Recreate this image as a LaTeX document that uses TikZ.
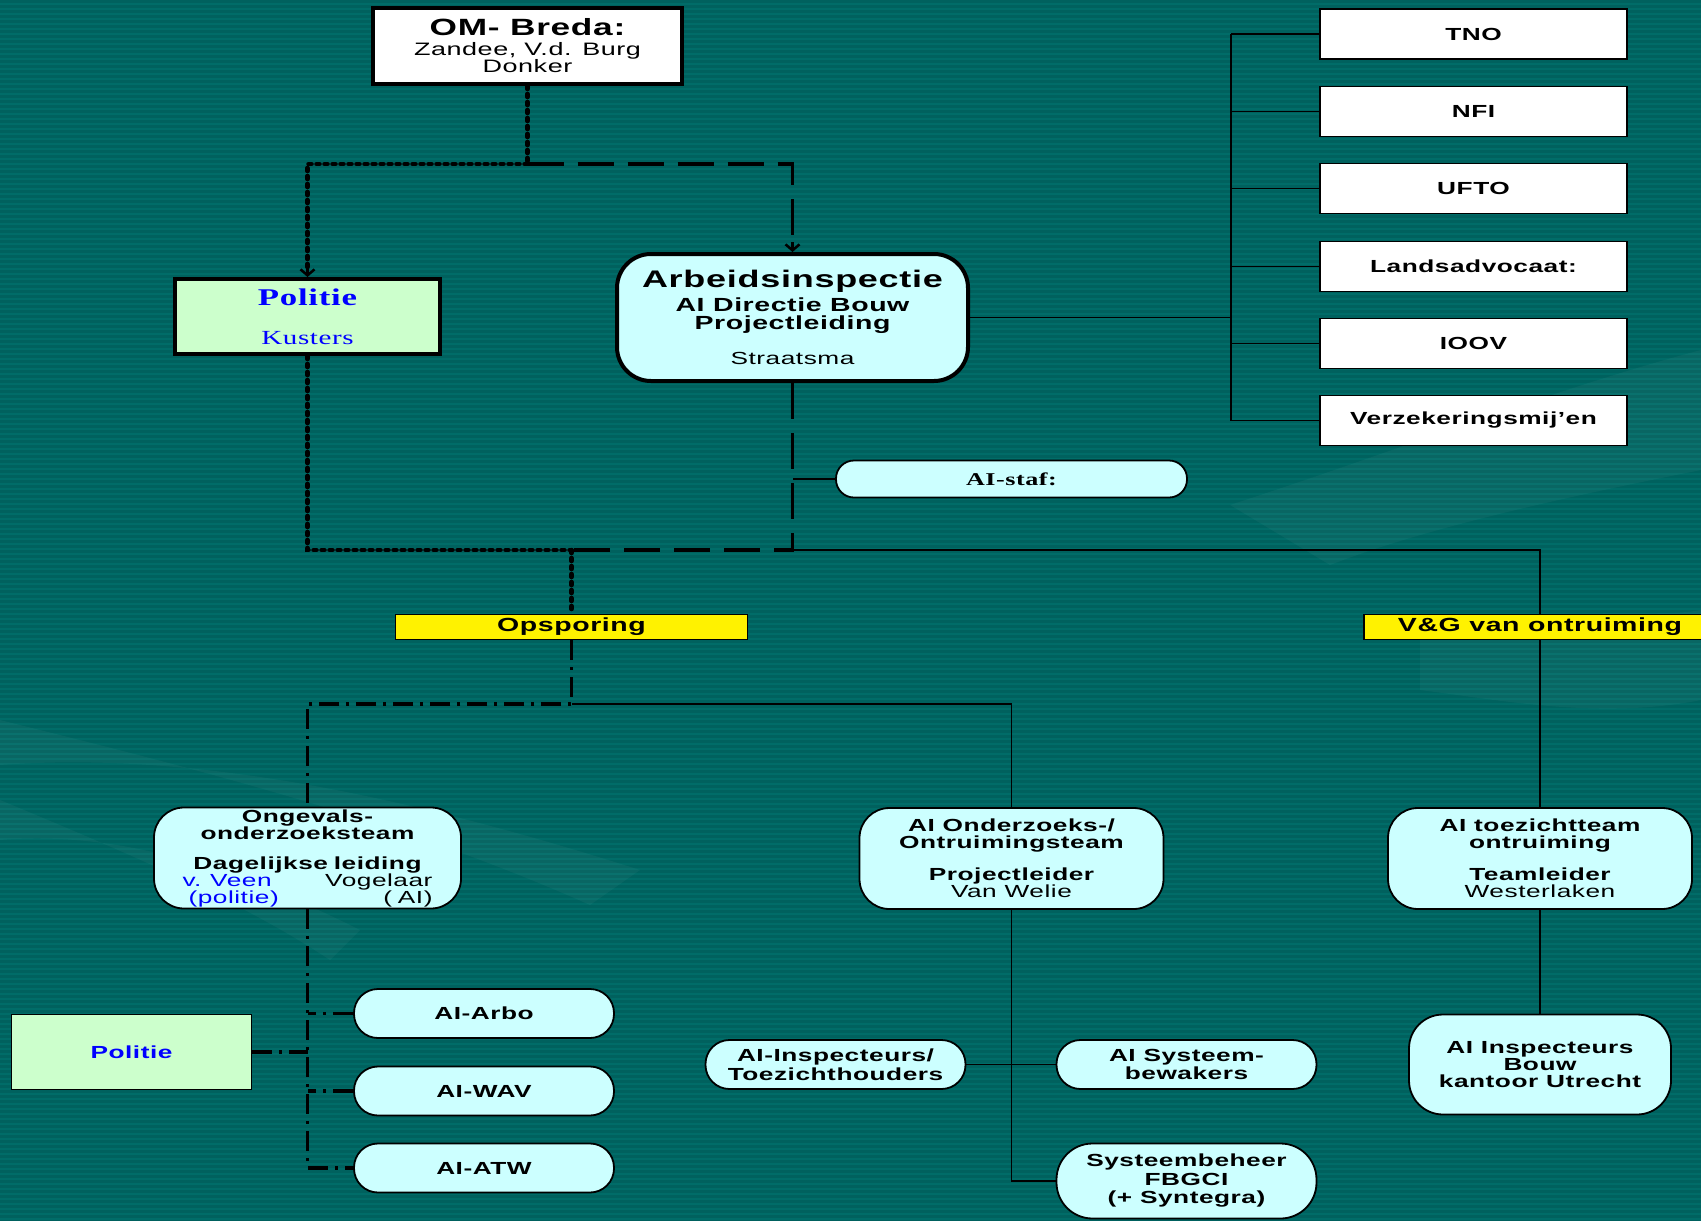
\documentclass[tikz,border=0pt]{standalone}
\usepackage{fontspec}
\newfontfamily\ar{Liberation Sans}[FakeStretch=1.5,LetterSpace=3]
\newfontfamily\tm{Liberation Serif}[FakeStretch=1.45,LetterSpace=3]
\usetikzlibrary{arrows.meta,calc}
\pgfdeclarelayer{bg}
\pgfdeclarelayer{conn}
\pgfsetlayers{bg,conn,main}
\definecolor{tealA}{RGB}{0,108,104}
\definecolor{tealB}{RGB}{0,97,94}
\definecolor{lcyan}{RGB}{204,255,255}
\definecolor{lgreen}{RGB}{204,255,204}
\definecolor{pblue}{RGB}{0,0,255}
\newcommand{\fsz}[2]{\fontsize{#1}{#2}\selectfont}
\newcommand{\tightls}{\lineskiplimit-50pt\lineskip0pt\relax}
\begin{document}
\begin{tikzpicture}[x=1pt,y=-1pt,
  box/.style={draw=black,line width=1.8pt,inner sep=0pt,align=center,
    font=\ar\bfseries\fsz{17.5}{17}\tightls},
  thickbox/.style={box,line width=4pt},
  extbox/.style={box,fill=white,minimum width=307,minimum height=50},
  pill/.style={box,fill=lcyan,rounded corners=24,minimum width=260,minimum height=49},
  rbox/.style={box,fill=lcyan,rounded corners=30},
  band/.style={box,fill=yellow,line width=1.5pt,minimum width=352,minimum height=25,
    font=\ar\bfseries\fsz{19}{19}},
  thinl/.style={draw=black,line width=1.8pt},
  dotl/.style={draw=black,line width=4.5pt,dash pattern=on 3pt off 5pt,line cap=round},
  dashl/.style={draw=black,line width=3.5pt,dash pattern=on 36pt off 14pt},
  ddl/.style={draw=black,line width=3.5pt,dash pattern=on 20pt off 7pt on 3pt off 7pt},
  barb/.style={draw=black,line width=2.5pt,-{Straight Barb[length=6pt,width=14pt]}},
  ghost/.style={fill=white,opacity=0.035},
]
\useasboundingbox (0,0) rectangle (1701,1221);
\begin{pgfonlayer}{bg}
  \fill[tealA] (0,0) rectangle (1701,1221);
  \foreach \y in {0,5,...,1220} \fill[tealB] (0,\y) rectangle (1701,\y+2.5);
  % faint background imagery
  \fill[ghost] (0,720) .. controls (200,770) and (400,820) .. (590,905) -- (640,870) .. controls (420,800) and (200,750) .. (0,765) -- cycle;
  \fill[ghost] (0,800) .. controls (120,850) and (240,900) .. (330,960) -- (360,930) .. controls (240,870) and (120,830) .. (0,840) -- cycle;
  \fill[ghost] (1230,505) .. controls (1400,450) and (1550,390) .. (1701,350) -- (1701,470) .. controls (1550,500) and (1420,530) .. (1330,565) -- cycle;
  \fill[ghost] (1420,640) .. controls (1550,600) and (1650,620) .. (1701,610) -- (1701,700) .. controls (1600,720) and (1500,700) .. (1420,690) -- cycle;
\end{pgfonlayer}

% ---------- nodes ----------
\node[thickbox,fill=white,minimum width=309,minimum height=76] (om) at (527.5,46)
  {{\fsz{23.5}{20}OM- Breda:}\\[3pt]{\mdseries\fsz{18}{16}Zandee, V.d. Burg}\\{\mdseries\fsz{18}{16}Donker}};

\node[thickbox,fill=lgreen,minimum width=265,minimum height=75,font=\tm\fsz{20}{20}\tightls] (pol) at (307.5,316.5)
  {\textcolor{pblue}{\bfseries\fsz{24}{20}Politie}\\[19pt]\textcolor{pblue}{Kusters}};

\node[thickbox,fill=lcyan,rounded corners=34,minimum width=351,minimum height=127] (ai) at (792.5,317.5)
  {{\fsz{24}{20}Arbeidsinspectie}\\[7pt]{\fsz{19}{18}AI Directie Bouw}\\[1pt]{\fsz{19}{18}Projectleiding}\\[18pt]{\mdseries\fsz{17.5}{17}Straatsma}};

\node[extbox] (tno)   at (1473.5,34)    {TNO};
\node[extbox] (nfi)   at (1473.5,111.5) {NFI};
\node[extbox] (ufto)  at (1473.5,188.5) {UFTO};
\node[extbox] (lands) at (1473.5,266.5) {Landsadvocaat:};
\node[extbox] (ioov)  at (1473.5,343.5) {IOOV};
\node[extbox] (verz)  at (1473.5,420.5) {Verzekeringsmij’en};

\node[pill,minimum width=351,minimum height=37,rounded corners=18,font=\tm\bfseries\fsz{18}{18}] (staf) at (1011.5,479) {AI-staf:};

\node[band] (ops) at (571.5,627) {Opsporing};
\node[band] (vg)  at (1540,627) {V\&G van ontruiming};

\node[rbox,minimum width=307,minimum height=101,text width=250] (ong) at (307.5,858)
  {Ongevals-\\onderzoeksteam\\[13pt]Dagelijkse leiding\\
   {\mdseries\textcolor{pblue}{v. Veen}\hfill Vogelaar}\\
   {\mdseries\hspace*{6pt}\textcolor{pblue}{(politie)}\hfill ( AI)\hspace*{5pt}}};

\node[rbox,minimum width=304,minimum height=101] (ond) at (1011.5,858.5)
  {AI Onderzoeks-/\\Ontruimingsteam\\[15pt]Projectleider\\{\mdseries Van Welie}};

\node[rbox,minimum width=304,minimum height=101] (toez) at (1540,858.5)
  {AI toezichtteam\\ontruiming\\[15pt]Teamleider\\{\mdseries Westerlaken}};

\node[box,fill=lgreen,minimum width=240,minimum height=75,text=pblue] (pol2) at (131.5,1052) {Politie};

\node[pill] (arbo) at (484,1013.5) {AI-Arbo};
\node[pill] (wav)  at (484,1091)   {AI-WAV};
\node[pill] (atw)  at (484,1168)   {AI-ATW};

\node[pill,font=\ar\bfseries\fsz{17.5}{18.5}\tightls] (insp) at (835.5,1064.5) {AI-Inspecteurs/\\Toezichthouders};
\node[pill,font=\ar\bfseries\fsz{17.5}{18.5}\tightls] (sysb) at (1186.5,1064.5) {AI Systeem-\\bewakers};
\node[pill,minimum height=75,rounded corners=36,font=\ar\bfseries\fsz{17.5}{18.5}\tightls] (sbeh) at (1186.5,1181)
  {Systeembeheer\\FBGCI\\(+ Syntegra)};

\node[rbox,minimum width=262,minimum height=100,rounded corners=34] (ib) at (1540,1064.5)
  {AI Inspecteurs\\Bouw\\kantoor Utrecht};

% ---------- connectors ----------
\begin{pgfonlayer}{conn}
  \coordinate (j1)  at (527.5,164);
  \coordinate (jpt) at (307.5,164);
  \coordinate (jat) at (792.5,164);
  \coordinate (j2)  at (307.5,550);
  \coordinate (j3)  at (571.5,550);
  \coordinate (j4)  at (792.5,550);
  \coordinate (j5)  at (571.5,704);
  \coordinate (bus) at (1231,317.5);

  \draw[dotl] (om.south) -- (j1);
  \draw[dotl] (j1) -- (jpt) -- ([yshift=6pt]pol.north);
  \draw[barb] ([yshift=10pt]pol.north) -- (pol.north);
  \draw[dashl] (j1) -- (jat) -- ([yshift=6pt]ai.north);
  \draw[barb] ([yshift=10pt]ai.north) -- (ai.north);

  \draw[dotl] (pol.south) -- (j2) -- (j3);
  \draw[dashl] (ai.south) -- (j4) -- (j3);
  \draw[thinl] (staf.west) -- (staf.west -| j4);
  \draw[thinl] (j4) -| (toez.north);
  \draw[thinl] (toez.south) -- (ib.north);

  \draw[dotl] (j3) -- (ops.north);
  \draw[ddl] (ops.south) -- (j5) -- (j5 -| ong.north) -- (ong.north);
  \draw[thinl] (j5) -| (ond.north);

  \draw[ddl] (ong.south) |- (atw.west);
  \draw[ddl] (arbo.west) -- (arbo.west -| ong.south);
  \draw[ddl] (wav.west) -- (wav.west -| ong.south);
  \draw[ddl] (pol2.east) -- (pol2.east -| ong.south);

  \draw[thinl] (ond.south) |- (sbeh.west);
  \draw[thinl] (insp.east) -- (sysb.west);

  \draw[thinl] (ai.east) -- (bus);
  \draw[thinl] (tno.west -| bus) -- (verz.west -| bus);
  \foreach \n in {tno,nfi,ufto,lands,ioov,verz}
    \draw[thinl] (\n.west) -- (\n.west -| bus);
\end{pgfonlayer}
\end{tikzpicture}
\end{document}
